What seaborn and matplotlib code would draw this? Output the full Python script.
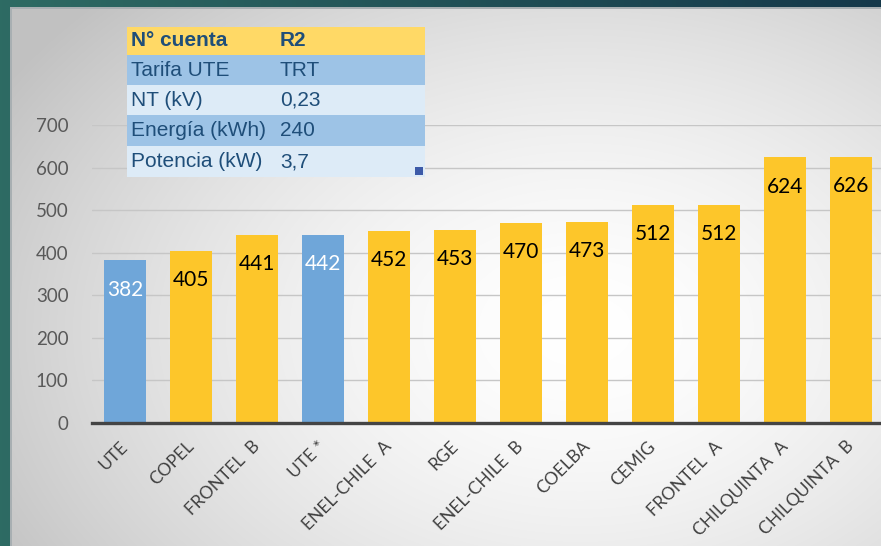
import numpy as np
import pandas as pd
import matplotlib.pyplot as plt
import seaborn as sns
from matplotlib.patches import Rectangle

# datos
empresas = ["UTE", "COPEL", "FRONTEL  B", "UTE *", "ENEL-CHILE  A", "RGE",
            "ENEL-CHILE  B", "COELBA", "CEMIG", "FRONTEL  A", "CHILQUINTA  A",
            "CHILQUINTA  B"]
valores = [382, 405, 441, 442, 452, 453, 470, 473, 512, 512, 624, 626]
grupo = ["UTE", "Otra", "Otra", "UTE", "Otra", "Otra", "Otra", "Otra",
         "Otra", "Otra", "Otra", "Otra"]
y_ticks = [0, 100, 200, 300, 400, 500, 600, 700]

tabla_campos = ["N° cuenta", "Tarifa UTE", "NT (kV)", "Energía (kWh)", "Potencia (kW)"]
tabla_valores = ["R2", "TRT", "0,23", "240", "3,7"]

df = pd.DataFrame({"empresa": empresas, "valor": valores, "grupo": grupo})

W, H = 881, 546
sns.set_theme(style="white")
plt.rcParams["font.family"] = ["Lato", "DejaVu Sans"]

fig = plt.figure(figsize=(W / 100, H / 100), dpi=100)

# fondo tipo diapositiva: degradado gris con marco verde azulado
yy, xx = np.mgrid[0:H, 0:W]
d = np.sqrt(((xx - 580) / 600.0) ** 2 + ((yy - 330) / 420.0) ** 2)
g = np.clip(1 - 0.2 * d ** 1.6, 0.76, 1.0)
img = np.dstack([g, g, g])
t = xx / W
teal = np.dstack([0.18 - 0.10 * t, 0.42 - 0.20 * t, 0.39 - 0.10 * t])
frame = (yy < 7) | (xx < 10)
img[frame] = teal[frame]
edge = ((yy >= 7) & (yy < 9) & (xx >= 10)) | ((xx >= 10) & (xx < 12) & (yy >= 7))
img[edge] = [0.66, 0.69, 0.70]
bg = fig.add_axes([0, 0, 1, 1], zorder=-1)
bg.imshow(img, aspect="auto", interpolation="bilinear")
bg.axis("off")


def fx(px):
    return px / W


def fy(py):
    return 1 - py / H


ax = fig.add_axes([fx(92), fy(423), 1 - fx(92), fy(125) - fy(423)])
ax.set_facecolor("none")
sns.barplot(data=df, x="empresa", y="valor", hue="grupo", dodge=False,
            palette={"UTE": "#6FA6D9", "Otra": "#FDC62A"}, width=0.64,
            saturation=1, legend=False, linewidth=0, ax=ax, zorder=2)

ax.set_ylim(0, 700)
ax.set_xlim(-0.5, 11.45)
ax.set_yticks(y_ticks)
ax.yaxis.grid(True, color="#C6C6C6", linewidth=1)
ax.set_axisbelow(True)
for s in ["top", "right", "left"]:
    ax.spines[s].set_visible(False)
ax.spines["bottom"].set_color("#444444")
ax.spines["bottom"].set_linewidth(2.4)
ax.spines["bottom"].set_zorder(3)
ax.set_xlabel("")
ax.set_ylabel("")
ax.tick_params(axis="y", length=0, pad=17, labelsize=13.5, labelcolor="#595959")
ax.tick_params(axis="x", length=0, pad=15, labelsize=12.5, labelcolor="#404040")
for lbl in ax.get_xticklabels():
    lbl.set_rotation(45)
    lbl.set_ha("right")
    lbl.set_va("center")
    lbl.set_rotation_mode("anchor")

for i, (v, gr) in enumerate(zip(valores, grupo)):
    ax.annotate(str(v), (i, v), xytext=(0, -21), textcoords="offset points",
                ha="center", va="center", fontsize=15,
                color="white" if gr == "UTE" else "black", zorder=4)

# tabla de datos del suministro
filas_y = [27, 55, 85, 115, 146, 177]
colores_fila = ["#FFD966", "#9DC3E6", "#DDEBF7", "#9DC3E6", "#DDEBF7"]
for k in range(5):
    y0, y1 = filas_y[k], filas_y[k + 1]
    fig.add_artist(Rectangle((fx(127), fy(y1)), fx(425) - fx(127), fy(y0) - fy(y1),
                             transform=fig.transFigure, facecolor=colores_fila[k],
                             edgecolor="none", zorder=5))
    yc = fy((y0 + y1) / 2)
    peso = "bold" if k == 0 else "normal"
    fig.text(fx(131), yc, tabla_campos[k], ha="left", va="center", fontsize=15,
             color="#1F4E79", weight=peso, family=["Liberation Sans", "DejaVu Sans"],
             zorder=6)
    fig.text(fx(280), yc, tabla_valores[k], ha="left", va="center", fontsize=15,
             color="#1F4E79", weight=peso, family=["Liberation Sans", "DejaVu Sans"],
             zorder=6)
fig.add_artist(Rectangle((fx(415), fy(175)), fx(8), 8 / H, transform=fig.transFigure,
                         facecolor="#3C5AA8", edgecolor="none", zorder=6))

fig.savefig("out.png", dpi=100)
